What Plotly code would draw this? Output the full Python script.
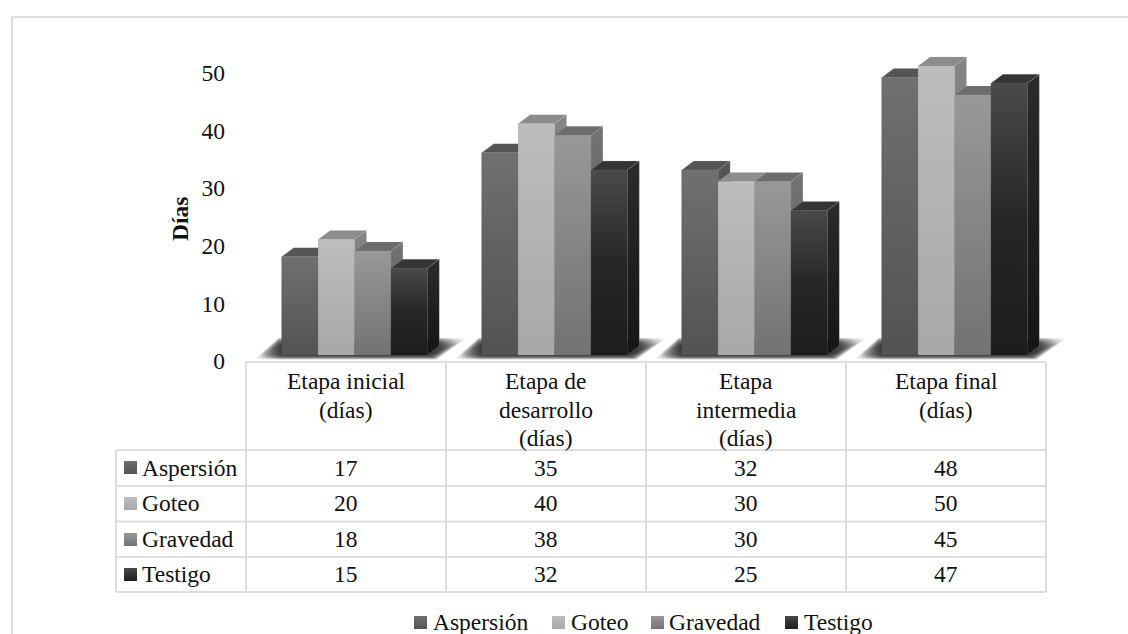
import plotly.graph_objects as go

W, H = 1128, 634

# Data
stages = [["Etapa inicial", "(días)"], ["Etapa de", "desarrollo", "(días)"],
          ["Etapa", "intermedia", "(días)"], ["Etapa final", "(días)"]]
series_names = ["Aspersión", "Goteo", "Gravedad", "Testigo"]
aspersion = [17, 35, 32, 48]
goteo = [20, 40, 30, 50]
gravedad = [18, 38, 30, 45]
testigo = [15, 32, 25, 47]
series_values = [aspersion, goteo, gravedad, testigo]
tick_values = [0, 10, 20, 30, 40, 50]

# Face shades per series: front top, front middle, front bottom, roof, side top, side bottom
shades = [
    ("#707070", "#616161", "#535353", "#555555", "#565656", "#3f3f3f"),
    ("#bdbdbd", "#b2b2b2", "#a8a8a8", "#8c8c8c", "#858585", "#6f6f6f"),
    ("#989898", "#858585", "#727272", "#6c6c6c", "#737373", "#585858"),
    ("#4a4a4a", "#262626", "#1d1d1d", "#353535", "#2b2b2b", "#151515"),
]

# Scales: one category spans 200 px, one day spans 5.78 px
PX_PER_CAT = 200.0
PX_PER_DAY = 5.78
PLOT_LEFT = 246
FLOOR_Y = 355
TICK_ZERO_Y = 361
TICK_PX_PER_DAY = 5.76
BAR_W = 36.4 / PX_PER_CAT
GROUP_START = 35.7 / PX_PER_CAT
DEPTH_X = 12 / PX_PER_CAT
DEPTH_Y = 9 / PX_PER_DAY

FONT = "Liberation Serif"
FS = 23.5
TXT = "#111111"
GRID = "#dedede"

fig = go.Figure()


def poly(xs, ys, gradient=None, color=None, xaxis="x", yaxis="y", line=None):
    kw = dict(fillcolor=color) if color else dict(fillgradient=gradient)
    fig.add_trace(go.Scatter(
        x=list(xs) + [xs[0]], y=list(ys) + [ys[0]], mode="lines", fill="toself",
        line=line or dict(width=0), hoverinfo="skip", showlegend=False,
        xaxis=xaxis, yaxis=yaxis, **kw))


def vgrad(colors, start, stop):
    steps = [i / (len(colors) - 1) for i in range(len(colors))]
    return dict(type="vertical", colorscale=[[p, col] for p, col in zip(steps, colors)],
                start=start, stop=stop)


# Solid front faces carrying the values
for s, (name, vals) in enumerate(zip(series_names, series_values)):
    fig.add_trace(go.Bar(
        x=[c + GROUP_START + s * BAR_W + BAR_W / 2 for c in range(4)], y=vals,
        width=BAR_W, name=name, marker=dict(color=shades[s][2], line=dict(width=0)),
        showlegend=False, hovertemplate="%{y}<extra>" + name + "</extra>"))

# Soft floor shadow under every group, built from nested translucent layers
for c in range(4):
    g0 = c + GROUP_START
    g1 = g0 + 4 * BAR_W
    for spread in [4, 3, 2, 1, 0, -1, -2, -3, -4]:
        low = (-2.2 - spread * 0.55) / PX_PER_DAY
        high = (13.5 + spread * 0.9) / PX_PER_DAY
        bl = g0 - (24 + spread) / PX_PER_CAT
        br = g1 + (5 + spread) / PX_PER_CAT
        tr = g1 + (34 + spread * 1.5) / PX_PER_CAT
        tl = g0 - 3 / PX_PER_CAT
        poly([bl, br, tr, tl], [low, low, high, high], gradient=dict(
            type="horizontal",
            colorscale=[[0, "rgba(60,60,60,0)"], [0.12, "rgba(25,25,25,0.2)"],
                        [0.88, "rgba(25,25,25,0.2)"], [1, "rgba(60,60,60,0)"]]))

# Prism faces, left to right so each front hides its neighbour's side
EDGE = dict(width=0.5, color="rgba(190,190,190,0.35)")
for c in range(4):
    for s, vals in enumerate(series_values):
        v = vals[c]
        x0 = c + GROUP_START + s * BAR_W
        x1 = x0 + BAR_W
        top, mid, bot, roof, side_t, side_b = shades[s]
        poly([x1, x1 + DEPTH_X, x1 + DEPTH_X, x1], [0, DEPTH_Y, v + DEPTH_Y, v],
             gradient=vgrad([side_b, side_t], 0, v + DEPTH_Y), line=EDGE)
        poly([x0, x1, x1 + DEPTH_X, x0 + DEPTH_X], [v, v, v + DEPTH_Y, v + DEPTH_Y],
             color=roof, line=EDGE)
        poly([x0, x1, x1, x0], [0, 0, v, v], gradient=vgrad([bot, mid, top], 0, v))

# Keeps the tick axis attached to a trace
fig.add_trace(go.Scatter(x=[0], y=[0], yaxis="y2", mode="none", showlegend=False, hoverinfo="skip"))

# Swatches drawn in canvas-pixel axes
table_swatch_tops = [461, 497, 533, 568]
legend_swatch_lefts = [414, 552, 651, 785]
legend_text_lefts = [432, 570, 668, 803]
SW = 13
for s in range(4):
    top, bot = shades[s][0], shades[s][2]
    y0 = table_swatch_tops[s]
    poly([124, 124 + SW, 124 + SW, 124], [y0, y0, y0 + SW, y0 + SW],
         gradient=vgrad([top, bot], y0, y0 + SW), xaxis="x2", yaxis="y3")
    x0 = legend_swatch_lefts[s]
    poly([x0, x0 + SW, x0 + SW, x0], [616, 616, 629, 629],
         gradient=vgrad([top, bot], 616, 629), xaxis="x2", yaxis="y3")

# Chart frame and data table rules
shapes = []


def rule(x0, y0, x1, y1):
    shapes.append(dict(type="line", xref="x2", yref="y3", x0=x0, y0=y0, x1=x1, y1=y1,
                       line=dict(color=GRID, width=2), layer="above"))


rule(12, 17, W, 17)
rule(12, 17, 12, H)
col_edges = [246, 446, 646, 846, 1046]
row_edges = [450, 486, 521.5, 557, 592]
rule(246, 362, 1046, 362)
for x in col_edges:
    rule(x, 362, x, 592)
rule(116, 450, 116, 592)
for y in row_edges:
    rule(116, y, 1046, y)

annotations = []


def label(x, y, text, xanchor="center", **extra):
    annotations.append(dict(xref="x2", yref="y3", x=x, y=y, text=text, showarrow=False,
                            xanchor=xanchor, yanchor="middle", align="center", borderpad=0,
                            font=dict(family=FONT, size=FS, color=TXT), **extra))


header_line_y = [381, 409.5, 438]
for c, stage in enumerate(stages):
    cx = (col_edges[c] + col_edges[c + 1]) / 2
    for line_y, line_text in zip(header_line_y, stage):
        label(cx, line_y, line_text)
    for s in range(4):
        label(cx, (row_edges[s] + row_edges[s + 1]) / 2 - 0.5, str(series_values[s][c]))
for s, name in enumerate(series_names):
    label(141, (row_edges[s] + row_edges[s + 1]) / 2 - 0.5, name, xanchor="left")
    label(legend_text_lefts[s], 622, name, xanchor="left")
label(180, 219, "<b>Días</b>", textangle=-90)

y_low = (FLOOR_Y - H) / PX_PER_DAY
y_high = FLOOR_Y / PX_PER_DAY
fig.update_layout(
    width=W, height=H, margin=dict(l=0, r=0, t=0, b=0), autosize=False,
    paper_bgcolor="white", plot_bgcolor="rgba(0,0,0,0)", showlegend=False,
    barmode="overlay", shapes=shapes, annotations=annotations,
    xaxis=dict(domain=[0, 1], range=[-PLOT_LEFT / PX_PER_CAT, (W - PLOT_LEFT) / PX_PER_CAT], visible=False),
    yaxis=dict(domain=[0, 1], range=[y_low, y_high], visible=False),
    yaxis2=dict(domain=[0, 1], overlaying="y", anchor="free", position=PLOT_LEFT / W, side="left",
                range=[(TICK_ZERO_Y - H) / TICK_PX_PER_DAY, TICK_ZERO_Y / TICK_PX_PER_DAY],
                tickmode="array", tickvals=tick_values, showgrid=False, zeroline=False, showline=False,
                ticks="", ticklabelstandoff=21,
                tickfont=dict(family=FONT, size=FS, color=TXT)),
    xaxis2=dict(domain=[0, 1], overlaying="x", range=[0, W], visible=False),
    yaxis3=dict(domain=[0, 1], overlaying="y", range=[H, 0], visible=False),
)

fig.write_html("out.html", config=dict(displayModeBar=False))
